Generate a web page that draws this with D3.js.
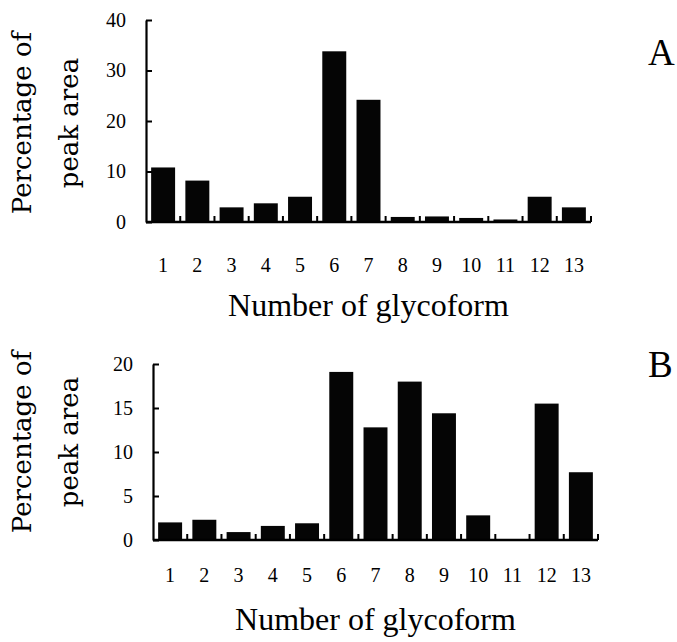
<!DOCTYPE html>
<html>
<head>
<meta charset="utf-8">
<script src="https://cdn.jsdelivr.net/npm/d3@7"></script>
<style>
  body { margin: 0; background: #fff; }
  svg { display: block; }
</style>
</head>
<body>
<svg id="chart" width="677" height="642"></svg>
<script>
// Glycoform numbers along the x axis
const glycoforms = ["1","2","3","4","5","6","7","8","9","10","11","12","13"];

// Percentage of peak area for each glycoform, sample A
const peakAreaA = [10.8, 8.2, 2.9, 3.7, 5.0, 33.8, 24.2, 1.0, 1.1, 0.8, 0.5, 5.0, 2.9];

// Percentage of peak area for each glycoform, sample B
const peakAreaB = [2.0, 2.3, 0.9, 1.6, 1.9, 19.1, 12.8, 18.0, 14.4, 2.8, 0.1, 15.5, 7.7];

// y-axis tick values for each panel
const yTicksA = [0, 10, 20, 30, 40];
const yTicksB = [0, 5, 10, 15, 20];

const panelLetters = ["A", "B"];
const xTitle = "Number of glycoform";
const yTitleLines = ["Percentage of", "peak area"];

// Layout of the two stacked panels
const layout = [
  { left: 146, right: 591, top: 20,  base: 222, tickPad: 36, titleY: 316, yTitleC: 123, letterY: 65 },
  { left: 153, right: 598, top: 364, base: 540, tickPad: 28, titleY: 630, yTitleC: 442, letterY: 377 }
];

const svg = d3.select("#chart");
const serif = "'Liberation Serif', 'Times New Roman', serif";
const titleSerif = "'DejaVu Serif', serif";

const panels = [
  { values: peakAreaA, ticks: yTicksA },
  { values: peakAreaB, ticks: yTicksB }
];

panels.forEach((p, i) => {
  const L = layout[i];
  const g = svg.append("g");

  const x = d3.scaleBand()
    .domain(glycoforms)
    .range([L.left, L.right])
    .paddingInner(0.3)
    .paddingOuter(0.15);

  const y = d3.scaleLinear()
    .domain([0, d3.max(p.ticks)])
    .range([L.base, L.top]);

  // bars
  g.selectAll("rect.bar")
    .data(p.values)
    .join("rect")
    .attr("class", "bar")
    .attr("x", (d, k) => x(glycoforms[k]))
    .attr("width", x.bandwidth())
    .attr("y", d => y(d))
    .attr("height", d => y(0) - y(d))
    .attr("fill", "#050505");

  // y axis with inward ticks
  const yAxis = d3.axisLeft(y)
    .tickValues(p.ticks)
    .tickSizeInner(-6)
    .tickSizeOuter(0)
    .tickPadding(20);
  const ya = g.append("g")
    .attr("transform", `translate(${L.left},0)`)
    .call(yAxis);
  ya.select(".domain").attr("stroke", "#000").attr("stroke-width", 2.2);
  ya.selectAll(".tick line").attr("stroke", "#000").attr("stroke-width", 2);
  ya.selectAll(".tick text")
    .attr("font-family", serif)
    .attr("font-size", 20)
    .attr("fill", "#000");

  // x tick labels centred under the bars
  const xAxis = d3.axisBottom(x).tickSize(0).tickPadding(L.tickPad);
  const xa = g.append("g")
    .attr("transform", `translate(0,${L.base})`)
    .call(xAxis);
  xa.select(".domain").remove();
  xa.selectAll(".tick text")
    .attr("font-family", serif)
    .attr("font-size", 20)
    .attr("fill", "#000");

  // baseline with small upward ticks at the band boundaries
  g.append("line")
    .attr("x1", L.left).attr("x2", L.right)
    .attr("y1", L.base).attr("y2", L.base)
    .attr("stroke", "#000").attr("stroke-width", 2.4);
  const gap = (x.step() - x.bandwidth()) / 2;
  g.selectAll("line.sep")
    .data(glycoforms)
    .join("line")
    .attr("class", "sep")
    .attr("x1", d => x(d) + x.bandwidth() + gap)
    .attr("x2", d => x(d) + x.bandwidth() + gap)
    .attr("y1", L.base)
    .attr("y2", L.base - 6)
    .attr("stroke", "#000").attr("stroke-width", 2);

  // x-axis title
  g.append("text")
    .attr("x", (L.left + L.right) / 2)
    .attr("y", L.titleY)
    .attr("text-anchor", "middle")
    .attr("font-family", serif)
    .attr("font-size", 32)
    .attr("fill", "#000")
    .text(xTitle);

  // y-axis title, two rotated lines
  const yt = g.append("text")
    .attr("transform", `translate(0,${L.yTitleC}) rotate(-90)`)
    .attr("text-anchor", "middle")
    .attr("font-family", titleSerif)
    .attr("font-size", 26)
    .attr("fill", "#000");
  yt.append("tspan").attr("x", 0).attr("y", 31).text(yTitleLines[0]);
  yt.append("tspan").attr("x", 0).attr("y", 78).text(yTitleLines[1]);

  // panel letter
  g.append("text")
    .attr("x", 648)
    .attr("y", L.letterY)
    .attr("font-family", serif)
    .attr("font-size", 37)
    .attr("fill", "#000")
    .text(panelLetters[i]);
});
</script>
</body>
</html>
